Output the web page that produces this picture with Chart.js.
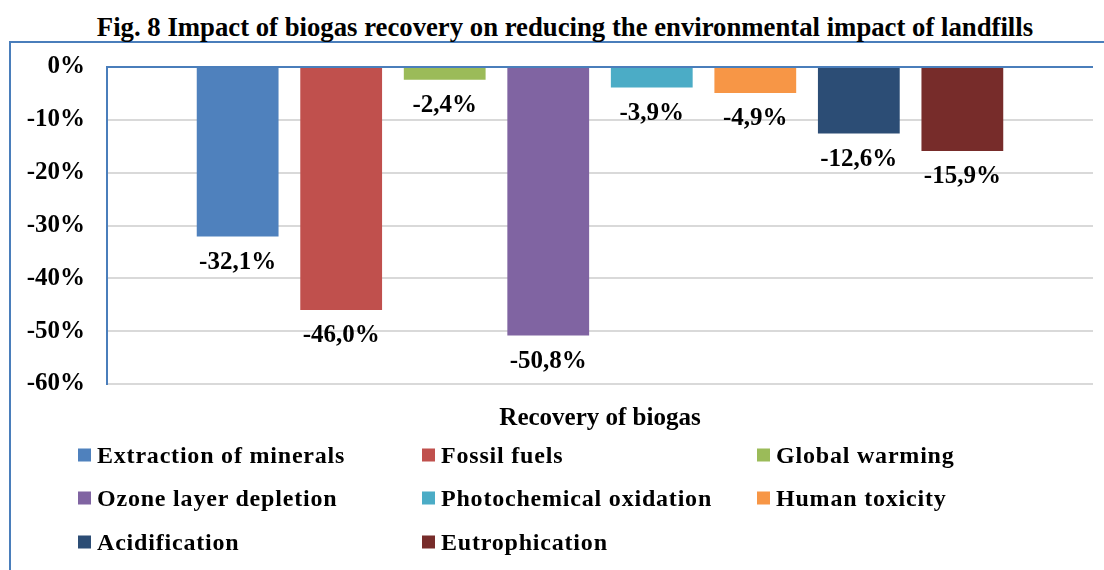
<!DOCTYPE html>
<html>
<head>
<meta charset="utf-8">
<script src="https://cdn.jsdelivr.net/npm/chart.js@4.4.1/dist/chart.umd.min.js"></script>
<style>
    body { margin: 0; background: #fff; }
    #lienzo { position: relative; width: 1104px; height: 570px; overflow: hidden; }
    #marco { position: absolute; left: 9px; top: 41px; width: 1200px; height: 600px;
             border-top: 2px solid #4a7ebb; border-left: 2px solid #4a7ebb; }
    #titulo { position: absolute; left: 0; width: 1130px; top: 12px; text-align: center;
              font: bold 27px 'Liberation Serif', serif; color: #000; white-space: nowrap;
              transform: scaleX(0.99); }
    #contenedor { position: absolute; left: 0; top: 0; width: 1104px; height: 570px; }
    #leyenda { position: absolute; left: 0; top: 0; }
    .item { position: absolute; display: flex; align-items: center; transform: translateY(-50%);
            font: bold 24px 'Liberation Serif', serif; color: #000; white-space: nowrap; letter-spacing: 0.8px; }
    .item span.caja { display: inline-block; width: 13px; height: 13px; margin-right: 6px; }
</style>
</head>
<body>
<div id="lienzo">
    <div id="marco"></div>
    <div id="titulo">Fig. 8 Impact of biogas recovery on reducing the environmental impact of landfills</div>
    <div id="contenedor"><canvas id="graficoBiogas" width="1104" height="570"></canvas></div>
    <div id="leyenda"></div>
</div>
<script>
// ===================================== Datos ==================
const categorias = ['Recovery of biogas'];
const impactos = ['Extraction of minerals', 'Fossil fuels', 'Global warming',
                  'Ozone layer depletion', 'Photochemical oxidation', 'Human toxicity',
                  'Acidification', 'Eutrophication'];
const reduccion = [-32.1, -46.0, -2.4, -50.8, -3.9, -4.9, -12.6, -15.9];
const colores = ['#4F81BD', '#C0504D', '#9BBB59', '#8064A2', '#4BACC6', '#F79646', '#2C4D75', '#772C2A'];
const ticksY = [0, -10, -20, -30, -40, -50, -60];

const fuenteSerif = "'Liberation Serif', 'Times New Roman', serif";


// ===================================== Etiquetas bajo cada barra ==================
const etiquetasBarras = {
    id: 'etiquetasBarras',
    afterDatasetsDraw(chart) {
        const ctx = chart.ctx;
        ctx.save();
        ctx.font = 'bold 25px ' + fuenteSerif;
        ctx.fillStyle = '#000';
        ctx.textAlign = 'center';
        ctx.textBaseline = 'middle';
        chart.data.datasets.forEach((ds, i) => {
            const barra = chart.getDatasetMeta(i).data[0];
            const texto = ds.data[0].toFixed(1).replace('.', ',') + '%';
            ctx.fillText(texto, barra.x, barra.y + 26);
        });
        ctx.restore();
    }
};


// ===================================== Grafico ==================
const chartBiogas = new Chart(document.getElementById('graficoBiogas'), {
    type: 'bar',
    data: {
        labels: categorias,
        datasets: impactos.map((nombre, i) => ({
            label: nombre,
            data: [reduccion[i]],
            backgroundColor: colores[i],
            categoryPercentage: 0.84,
            barPercentage: 0.79
        }))
    },
    options: {
        responsive: false,
        animation: false,
        layout: { padding: { left: 0, right: 11, top: 67, bottom: 126 } },
        plugins: {
            legend: { display: false },
            tooltip: { enabled: false }
        },
        scales: {
            x: {
                grid: { display: false },
                border: { display: false },
                ticks: { color: '#000', padding: 12, font: { family: fuenteSerif, size: 25, weight: 'bold' } },
                afterFit: (s) => { s.height = 60; }
            },
            y: {
                min: -60,
                max: 0,
                afterBuildTicks: (s) => { s.ticks = ticksY.map(v => ({ value: v })); },
                ticks: {
                    color: '#000',
                    padding: 22,
                    font: { family: fuenteSerif, size: 25, weight: 'bold' },
                    callback: (v) => v + '%'
                },
                grid: {
                    drawTicks: false,
                    lineWidth: 2,
                    color: (c) => c.tick && c.tick.value === 0 ? '#4a7ebb' : '#d9d9d9'
                },
                border: { color: '#4a7ebb', width: 2 },
                afterFit: (s) => { s.width = 107; }
            }
        }
    },
    plugins: [etiquetasBarras]
});


// ===================================== Leyenda en 3 columnas ==================
const columnasX = [78, 422, 757];
const filasY = [455, 498, 542];
impactos.forEach((nombre, i) => {
    const div = document.createElement('div');
    div.className = 'item';
    div.style.left = columnasX[i % 3] + 'px';
    div.style.top = filasY[Math.floor(i / 3)] + 'px';
    div.innerHTML = '<span class="caja" style="background:' + colores[i] + '"></span>' + nombre;
    document.getElementById('leyenda').appendChild(div);
});
</script>
</body>
</html>
